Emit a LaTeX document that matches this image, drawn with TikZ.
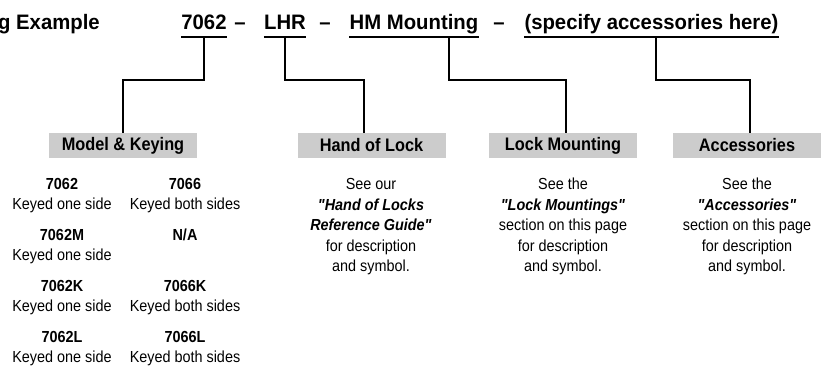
\documentclass[tikz,border=0pt]{standalone}
\usepackage{fontspec}
\setmainfont{Liberation Sans}[FakeStretch=0.9, Ligatures=TeXOff]
\newfontfamily\titelfont{Liberation Sans}[FakeStretch=0.97, Ligatures=TeXOff]
\usepackage{xcolor}
\usetikzlibrary{positioning}
\definecolor{boxgray}{HTML}{CCCCCC}

\begin{document}
\begin{tikzpicture}[x=0.75pt, y=-0.75pt,
  titel/.style={font=\titelfont\bfseries\fontsize{15.7}{18}\selectfont, inner sep=0pt, anchor=base},
  kopf/.style={fill=boxgray, font=\bfseries\fontsize{13.6}{15}\selectfont,
    minimum width=111pt, minimum height=18.75pt, inner sep=0pt},
  info/.style={align=center, font=\fontsize{12}{15.4}\selectfont, inner sep=0pt, anchor=base},
  linie/.style={line width=1.5pt}]
  \useasboundingbox (0,0) rectangle (829,366);
  \clip (0,0) rectangle (829,366);

  % Kopfzeile
  \node[titel, anchor=base east] (bsp) at (100,30) {Ordering Example};
  \node[titel] (modell) at (204,30) {7062};
  \node[titel] (s1) at (240,30) {–};
  \node[titel] (hand) at (285,30) {LHR};
  \node[titel] (s2) at (325,30) {–};
  \node[titel] (montage) at (414,30) {HM Mounting};
  \node[titel] (s3) at (499,30) {–};
  \node[titel] (zub) at (651.5,30) {(specify accessories here)};

  % Unterstreichungen
  \draw[linie] ([yshift=-5.6pt]modell.base west) -- ([yshift=-5.6pt]modell.base east);
  \draw[linie] ([yshift=-5.6pt]hand.base west) -- ([yshift=-5.6pt]hand.base east);
  \draw[linie] ([yshift=-5.6pt]montage.base west) -- ([yshift=-5.6pt]montage.base east);
  \draw[linie] ([yshift=-5.6pt]zub.base west) -- ([yshift=-5.6pt]zub.base east);

  % Kaesten
  \node[kopf] (kmodell) at (123,145.5) {Model \& Keying};
  \node[kopf] (khand) at (371.5,145.5) {Hand of Lock};
  \node[kopf] (kmontage) at (563,145.5) {Lock Mounting};
  \node[kopf] (kzub) at (747,145.5) {Accessories};

  % Verbindungen
  \draw[linie] ([yshift=-5.6pt]modell.base) |- (kmodell.north |- 0,80) -- (kmodell.north);
  \draw[linie] ([yshift=-5.6pt]hand.base) |- ([xshift=-5.6pt]khand.north |- 0,80)
    -- ([xshift=-5.6pt]khand.north);
  \draw[linie] ([xshift=26pt,yshift=-5.6pt]montage.base) |- ([xshift=2.25pt]kmontage.north |- 0,80)
    -- ([xshift=2.25pt]kmontage.north);
  \draw[linie] ([xshift=3.4pt,yshift=-5.6pt]zub.base) |- ([xshift=2.25pt]kzub.north |- 0,80)
    -- ([xshift=2.25pt]kzub.north);

  % Modell und Schliessung (base = letzte Zeile)
  \node[info] (m1) at (62,210) {\textbf{7062}\\Keyed one side};
  \node[info] (m2) at (185,210) {\textbf{7066}\\Keyed both sides};
  \node[info] (m3) at (62,261) {\textbf{7062M}\\Keyed one side};
  \node[info] (m4) at (185,241) {\textbf{N/A}};
  \node[info] (m5) at (62,312) {\textbf{7062K}\\Keyed one side};
  \node[info] (m6) at (185,312) {\textbf{7066K}\\Keyed both sides};
  \node[info] (m7) at (62,363) {\textbf{7062L}\\Keyed one side};
  \node[info] (m8) at (185,363) {\textbf{7066L}\\Keyed both sides};

  % Hinweise
  \node[info] (thand) at (371,272) {See our\\\textbf{\textit{"Hand of Locks}}\\
    \textbf{\textit{Reference Guide"}}\\for description\\and symbol.};
  \node[info] (tmontage) at (563,272) {See the\\\textbf{\textit{"Lock Mountings"}}\\
    section on this page\\for description\\and symbol.};
  \node[info] (tzub) at (747,272) {See the\\\textbf{\textit{"Accessories"}}\\
    section on this page\\for description\\and symbol.};
\end{tikzpicture}
\end{document}
